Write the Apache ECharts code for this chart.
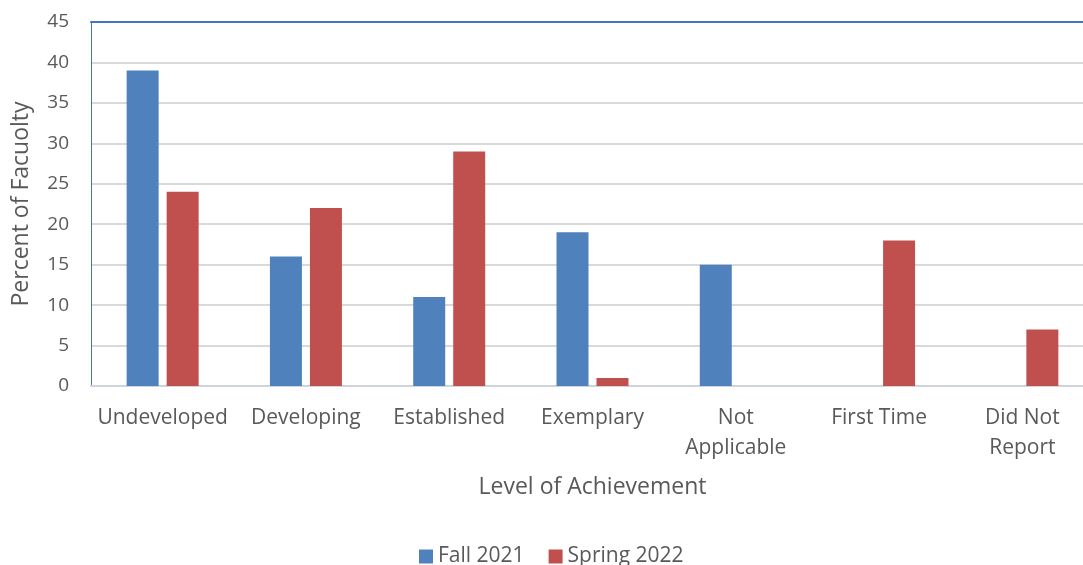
<!DOCTYPE html>
<html>
<head>
<meta charset="utf-8">
<script src="https://cdn.jsdelivr.net/npm/echarts@6/dist/echarts.min.js"></script>
<style>
  html, body { margin: 0; padding: 0; background: #fff; overflow: hidden; }
  #chart { width: 1094px; height: 565px; }
</style>
</head>
<body>
<div id="chart"></div>
<script>
const categories = ['Undeveloped', 'Developing', 'Established', 'Exemplary', 'Not\nApplicable', 'First Time', 'Did Not\nReport'];
const fall2021 = [39, 16, 11, 19, 15, null, null];
const spring2022 = [24, 22, 29, 1, null, 18, 7];
const yTicks = { min: 0, max: 45, interval: 5 };

const font = '"Open Sans", "Noto Sans", sans-serif';
const grey = '#595959';

// plot runs a little past the right edge of the window, like the original
const chart = echarts.init(document.getElementById('chart'));
chart.setOption({
  animation: false,
  textStyle: { fontFamily: font },
  grid: { left: 91, right: 0, top: 22, bottom: 179 },
  legend: {
    bottom: -7,
    left: 414,
    itemWidth: 14,
    itemHeight: 14,
    itemGap: 24,
    icon: 'rect',
    textStyle: { fontSize: 21, color: grey, fontFamily: font },
    data: ['Fall 2021', 'Spring 2022']
  },
  xAxis: [{
    type: 'category',
    data: categories,
    name: 'Level of Achievement',
    nameLocation: 'middle',
    nameGap: 90,
    nameTextStyle: { fontSize: 23, color: grey, fontFamily: font },
    axisLine: { lineStyle: { color: '#cfd3dc', width: 2 } },
    axisTick: { show: false },
    axisLabel: { fontSize: 21, color: grey, margin: 17, lineHeight: 30, fontFamily: font, interval: 0 }
  }, {
    type: 'category',
    position: 'top',
    data: categories,
    axisLine: { lineStyle: { color: '#4472c4', width: 2 } },
    axisTick: { show: false },
    axisLabel: { show: false }
  }],
  yAxis: {
    type: 'value',
    min: yTicks.min,
    max: yTicks.max,
    interval: yTicks.interval,
    name: 'Percent of Facuolty',
    nameLocation: 'middle',
    nameGap: 58,
    nameTextStyle: { fontSize: 23, color: grey, fontFamily: font },
    axisLine: { show: true, lineStyle: { color: '#4472c4', width: 1 } },
    axisTick: { show: false },
    axisLabel: { fontSize: 19, color: grey, margin: 22, fontFamily: font },
    splitLine: { lineStyle: { color: '#d9d9d9', width: 2 } }
  },
  series: [{
    name: 'Fall 2021',
    type: 'bar',
    data: fall2021,
    barWidth: 32,
    barGap: '25%',
    itemStyle: { color: '#4f81bd' }
  }, {
    name: 'Spring 2022',
    type: 'bar',
    data: spring2022,
    barWidth: 32,
    itemStyle: { color: '#c0504d' }
  }]
});
</script>
</body>
</html>
